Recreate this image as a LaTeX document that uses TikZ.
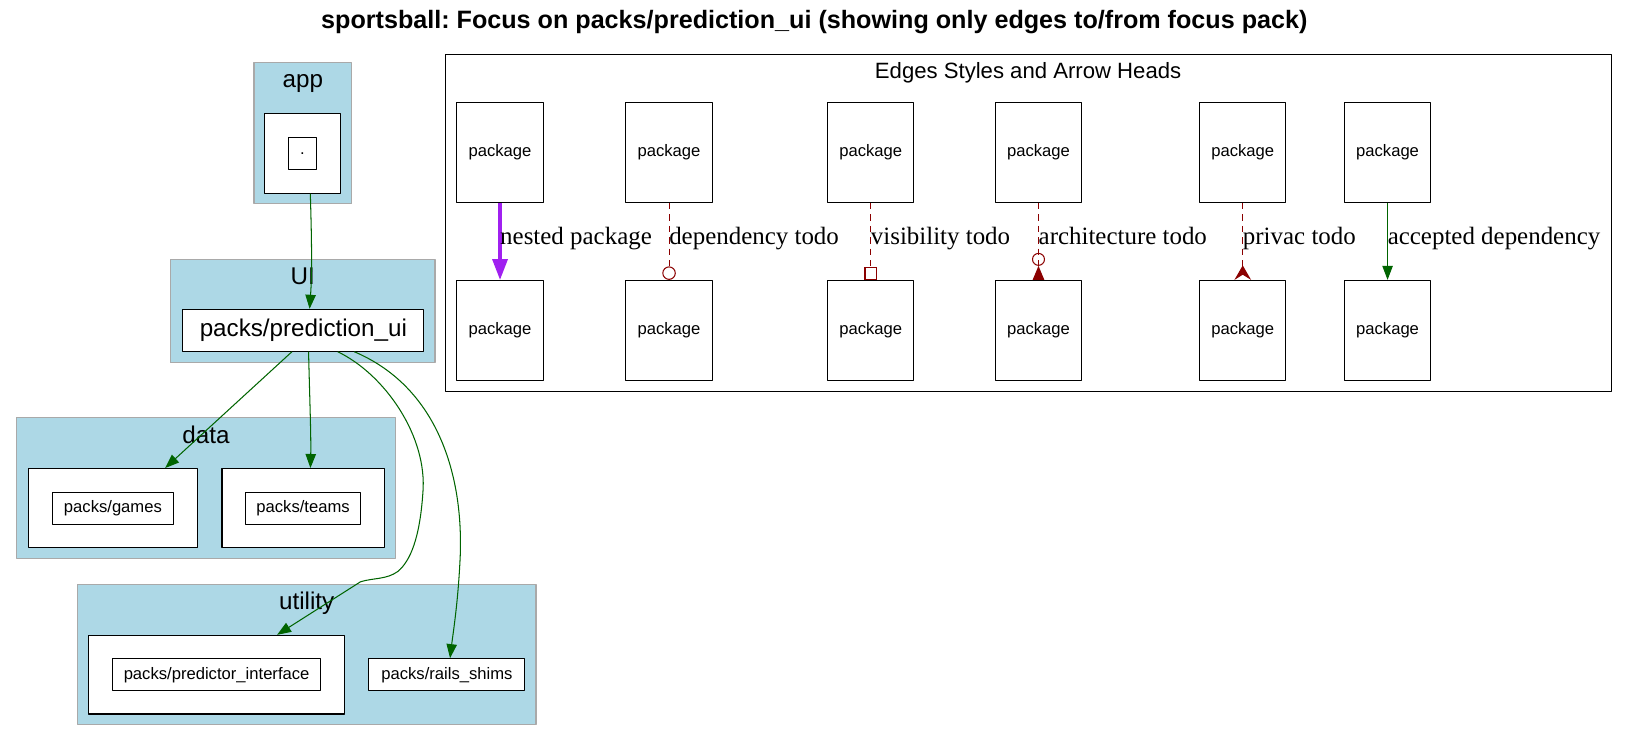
\documentclass[tikz,border=0pt]{standalone}
\usepackage{fontspec}
\setmainfont{Liberation Sans}
\newfontfamily\edgefont{Liberation Serif}
\usetikzlibrary{arrows.meta,calc}
\definecolor{clusterblue}{HTML}{ADD8E6}
\definecolor{clusterline}{HTML}{A9A9A9}
\definecolor{depgreen}{HTML}{006400}
\definecolor{todored}{HTML}{8B0000}
\definecolor{nestpurple}{HTML}{A020F0}
\frenchspacing
\begin{document}
\begin{tikzpicture}[x=1pt, y=-1pt, line join=round,
	cluster/.style={fill=clusterblue, draw=clusterline, line width=1.4pt},
	clabel/.style={anchor=base, inner sep=0pt, font=\fontsize{23.3}{28}\selectfont},
	box/.style={draw, fill=white, line width=1pt, inner sep=0pt},
	small/.style={font=\fontsize{16}{19}\selectfont},
	pkg/.style={box, small, minimum width=83pt, minimum height=96pt},
	dep/.style={color=depgreen, line width=1pt, -{Triangle[length=13.5pt, width=10pt]}},
	todo/.style={color=todored, line width=1pt, dash pattern=on 6pt off 5pt},
	nestededge/.style={color=nestpurple, line width=3pt, -{Triangle[length=20pt, width=14.5pt]}},
	deptodo/.style={todo, -{Circle[open, length=13pt]}},
	vistodo/.style={todo, -{Square[open, length=12pt]}},
	archtodo/.style={todo, -{Circle[open, length=12.5pt] Triangle[reversed, length=13.5pt, width=11pt]}},
	privtodo/.style={todo, -{Stealth[reversed, length=14pt, width=16pt, inset=5pt]}},
	elabel/.style={anchor=base west, inner sep=0pt, font=\edgefont\fontsize{24}{28}\selectfont}]
	\fill[white] (0,0) rectangle (1568,714.2);
	\useasboundingbox (0,0) rectangle (1568,714.2);
	\node[anchor=base, inner sep=0pt, font=\bfseries\fontsize{24.2}{29}\selectfont] (title) at (783.8,27.5) {sportsball: Focus on packs/prediction\_ui (showing only edges to/from focus pack)};
	% clusters
	\draw[cluster] (244.5,60.3) rectangle (338.5,196);
	\node[clabel] (applab) at (291.5,84.4) {app};
	\node[box, minimum width=72.5pt, minimum height=77pt] (appo) at (291.2,147.5) {};
	\node[box, small, minimum width=27.3pt, minimum height=30.8pt] (appi) at (291.2,147.6) {.};
	\draw[cluster] (164,250) rectangle (418.7,349);
	\node[clabel] (uilab) at (291.4,274.3) {UI};
	\node[box, font=\fontsize{23.3}{28}\selectfont, minimum width=231.8pt, minimum height=40.3pt] (ui) at (292,317.9) {packs/prediction\_ui};
	\draw[cluster] (15.9,402) rectangle (380.8,537.4);
	\node[clabel] (datalab) at (198.3,426.7) {data};
	\node[box, minimum width=162pt, minimum height=76pt] (gameso) at (108.7,489) {};
	\node[box, small, minimum width=116.7pt, minimum height=30.8pt] (games) at (108.7,489) {packs/games};
	\node[box, minimum width=156.6pt, minimum height=76pt] (teamso) at (292,489) {};
	\node[box, small, minimum width=111.4pt, minimum height=30.8pt] (teams) at (291.7,489) {packs/teams};
	\draw[cluster] (74.6,562.7) rectangle (515.8,697.5);
	\node[clabel] (utillab) at (295.2,587.1) {utility};
	\node[box, minimum width=246.1pt, minimum height=75.7pt] (predo) at (208.5,649.4) {};
	\node[box, small, minimum width=200.9pt, minimum height=31pt] (pred) at (208.5,649.5) {packs/predictor\_interface};
	\node[box, small, minimum width=150.2pt, minimum height=31pt] (rails) at (430.2,649.5) {packs/rails\_shims};
	% edges to/from focus pack
	\draw[dep] ($(appo.south)+(7.5,0)$) .. controls (300,230) and (300.5,262) .. ($(ui.north)+(6,0)$);
	\draw[dep] ($(ui.south)+(-11,0)$) -- ($(gameso.north)+(50.3,0)$);
	\draw[dep] ($(ui.south)+(5,0)$) .. controls (298,380) and (299.5,420) .. ($(teamso.north)+(6.8,0)$);
	\draw[dep] ($(ui.south)+(33,0)$) .. controls (370,360) and (412,420) .. (407,475) .. controls (404,518) and (395,540) .. (383,550) .. controls (372,558) and (360,556) .. (347,560) -- ($(predo.north)+(58.2,0)$);
	\draw[dep] ($(ui.south)+(49,0)$) .. controls (420,372) and (446,455) .. (443,535) .. controls (441,580) and (436,610) .. ($(rails.north)+(3,0)$);
	% legend
	\draw[line width=1pt] (429,52.9) rectangle (1551.4,377);
	\node[anchor=base, inner sep=0pt, font=\fontsize{21.3}{26}\selectfont] (legtitle) at (989.6,76) {Edges Styles and Arrow Heads};
	\foreach \i/\x/\st/\lab in {1/481.3/nestededge/nested package, 2/644/deptodo/dependency todo, 3/838.1/vistodo/visibility todo, 4/999.6/archtodo/architecture todo, 5/1196.2/privtodo/privac todo, 6/1335.6/dep/accepted dependency} {
		\node[pkg] (top\i) at (\x,146.9) {package};
		\node[pkg] (bot\i) at (\x,317.9) {package};
		\draw[\st] (top\i) -- (bot\i);
		\node[elabel] (lab\i) at (\x,235.5) {\lab};
	}
\end{tikzpicture}
\end{document}
